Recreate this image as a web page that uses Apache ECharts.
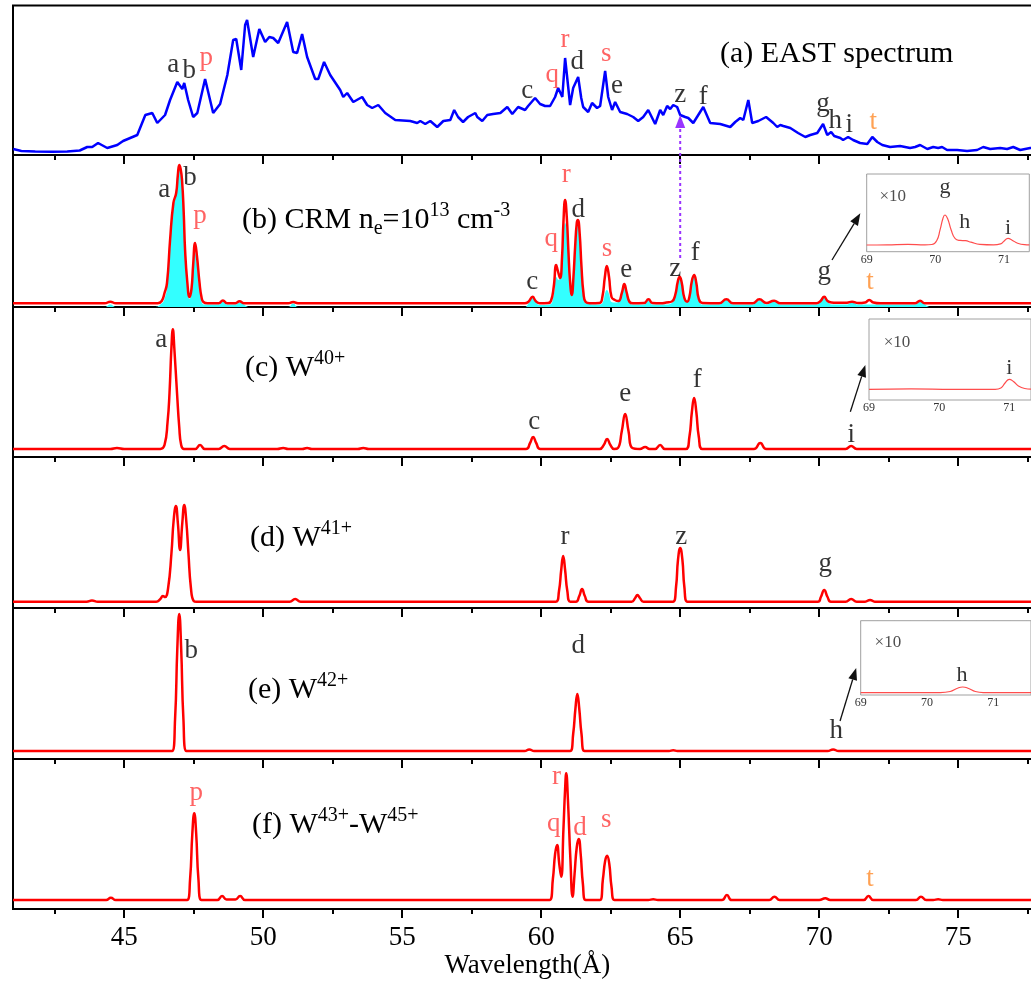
<!DOCTYPE html>
<html>
<head>
<meta charset="utf-8">
<script src="https://cdn.jsdelivr.net/npm/echarts@6/dist/echarts.min.js"></script>
<style>
  html, body { margin: 0; padding: 0; background: #fff; }
  #chart { width: 1031px; height: 987px; }
</style>
</head>
<body>
<div id="chart"></div>
<script>
// ---------- axis values ----------
const X_MIN = 41, X_MAX = 78;
const majorTicks = [45, 50, 55, 60, 65, 70, 75];
const minorTicks = [42.5, 47.5, 52.5, 57.5, 62.5, 67.5, 72.5, 77.5];
const insetTickLabels = [69, 70, 71];
const insetMinorTicks = [69, 69.25, 69.5, 69.75, 70, 70.25, 70.5, 70.75, 71, 71.25, 71.5];

// ---------- spectra: [wavelength (Å), intensity (arb. units)] ----------
const eastSpectrum = [
  [41.01,6],[41.3,4],[41.8,3.5],[42.4,3.3],[42.95,3.5],[43.4,4.5],[43.67,8],[43.85,8],[44.06,12],[44.39,7],
  [44.75,10],[44.96,14],[45.47,20],[45.76,40],[46.01,42],[46.19,32],[46.47,40],[46.65,55],[46.91,73],[47.09,66],
  [47.16,72],[47.30,55],[47.48,38],[47.63,42],[47.70,41],[47.91,76],[48.20,42],[48.45,51],[48.71,80],[48.78,78],
  [48.92,115],[49.03,116],[49.21,85],[49.35,130],[49.42,135],[49.64,98],[49.86,126],[50.07,113],[50.22,118],[50.36,117],
  [50.54,112],[50.86,133],[51.08,103],[51.22,102],[51.40,121],[51.58,98],[51.87,76],[51.98,76],[52.19,93],[52.41,80],
  [52.77,65],[52.88,58],[53.02,62],[53.24,53],[53.56,58],[53.74,50],[53.92,47],[54.14,50],[54.39,42],[54.75,35],
  [55.29,34],[55.54,32],[55.65,34],[55.83,31],[56.01,34],[56.26,28],[56.48,34],[56.73,35],[56.87,45],[57.01,38],
  [57.19,33],[57.37,38],[57.63,42],[57.70,38],[57.88,34],[58.06,40],[58.27,41],[58.53,42],[58.78,48],[58.96,41],
  [59.17,48],[59.42,45],[59.53,49],[59.78,57],[59.96,51],[60.14,49],[60.32,49],[60.50,58],[60.61,67],[60.76,58],
  [60.86,97],[61.04,50],[61.15,67],[61.33,78],[61.44,57],[61.51,48],[61.69,43],[61.83,52],[62.01,47],[62.12,49],
  [62.30,84],[62.41,58],[62.55,45],[62.66,53],[62.84,43],[63.09,41],[63.31,38],[63.49,34],[63.67,38],[63.85,45],
  [64.10,31],[64.28,45],[64.39,40],[64.53,49],[64.64,46],[64.75,50],[64.89,48],[65.00,40],[65.18,38],[65.29,37],
  [65.47,32],[65.65,40],[65.83,48],[66.08,32],[66.44,31],[66.80,28],[66.98,33],[67.16,37],[67.27,35],[67.45,55],
  [67.59,32],[67.81,34],[68.09,38],[68.35,32],[68.49,28],[68.60,30],[68.71,29],[68.96,27],[69.24,22],[69.50,18],
  [69.68,20],[69.93,22],[70.14,31],[70.29,20],[70.43,23],[70.54,19],[70.76,17],[70.86,15],[71.04,18],[71.22,15],
  [71.47,12],[71.73,11],[71.91,18],[72.09,13],[72.27,10],[72.55,8],[72.91,9],[73.27,7],[73.45,8],[73.63,10],
  [73.89,6],[74.10,8],[74.28,7],[74.42,8],[74.60,5],[74.96,5],[75.32,4],[75.68,5],[75.90,8],[76.15,6],
  [76.51,7],[76.76,6],[76.98,8],[77.23,5],[77.59,7],[78,6]
];

const crmTotal = [
  [41,3.7],[44.3,3.7],[44.5,5.3],[44.7,3.7],[46.2,3.7],[46.35,6],[46.45,14],[46.54,24],[46.65,67],[46.77,104],
  [46.87,114],[46.93,132],[46.98,142],[47.03,138],[47.08,127],[47.14,95],[47.19,57],[47.27,25],[47.35,10],[47.42,18],
  [47.48,42],[47.55,64],[47.62,50],[47.71,24],[47.78,10],[47.85,5],[48.0,3.7],[48.4,3.7],[48.55,6.5],[48.7,3.7],
  [49.0,3.7],[49.15,5.8],[49.3,3.7],[50.9,3.7],[51.08,5],[51.25,3.7],[59.4,3.7],[59.55,5.5],[59.69,10.3],[59.8,6],
  [59.95,3.7],[60.25,4],[60.35,6],[60.45,20],[60.54,42],[60.6,36],[60.68,29],[60.75,50],[60.8,85],[60.86,107],
  [60.92,90],[60.98,55],[61.04,25],[61.1,12],[61.16,30],[61.22,60],[61.28,84],[61.32,87],[61.38,75],[61.45,40],
  [61.52,14],[61.6,5],[61.75,3.7],[62.1,4],[62.2,10],[62.29,30],[62.36,41],[62.44,30],[62.53,10],[62.65,7],
  [62.78,6],[62.9,14],[62.99,23],[63.07,15],[63.18,5],[63.3,3.7],[63.7,3.9],[63.86,7.7],[64.0,4],[64.3,3.7],
  [64.5,4.5],[64.7,5.5],[64.82,12],[64.91,25],[64.98,30.3],[65.05,25],[65.15,9],[65.25,5.3],[65.33,10],[65.42,26],
  [65.5,32],[65.58,24],[65.67,8],[65.8,4],[66.4,3.7],[66.66,7.7],[66.9,3.7],[67.6,3.7],[67.85,7.7],[68.1,4],
  [68.38,6.3],[68.6,3.7],[69.9,3.7],[70.05,6],[70.18,10.3],[70.3,6],[70.45,4.5],[70.6,4.3],[71.0,4.3],[71.18,5.3],
  [71.4,3.9],[71.65,4.5],[71.8,7],[71.95,4.5],[72.2,3.7],[73.45,3.7],[73.63,6.3],[73.8,3.7],[78,3.7]
];

// filled (cyan) component under the CRM curve
const crmFill = [
  [41,0],[44.3,0],[44.5,2.5],[44.7,0],[46.1,0],[46.3,2.5],[46.45,8],[46.56,25],[46.66,62],[46.77,100],
  [46.87,112],[46.93,130],[46.98,140],[47.03,136],[47.08,125],[47.14,93],[47.19,55],[47.27,22],[47.35,8],[47.42,15],
  [47.48,36],[47.55,55],[47.62,42],[47.71,18],[47.8,4],[47.9,2.5],[48.4,2.5],[48.55,5],[48.7,2.5],[49.0,2.5],
  [49.15,4.5],[49.3,2.5],[49.5,0],[50.9,0],[51.08,3.5],[51.25,0],[59.4,0],[59.55,4],[59.69,9],[59.8,5],
  [59.95,2],[60.3,2.5],[60.45,12],[60.54,30],[60.62,27],[60.7,34],[60.78,62],[60.86,84],[60.94,72],[61.02,35],
  [61.1,11],[61.17,30],[61.24,60],[61.3,86],[61.36,82],[61.44,40],[61.52,12],[61.62,3.5],[62.1,2.5],[62.22,5],
  [62.3,14],[62.36,17],[62.44,13],[62.53,5],[62.65,4.5],[62.78,5],[62.9,13],[62.99,22],[63.07,14],[63.18,4],
  [63.3,2.5],[63.7,2.5],[63.86,7],[64.0,2.5],[64.5,2.5],[64.7,4],[64.82,11],[64.91,24],[64.98,29.5],[65.05,24],
  [65.15,8],[65.25,4.5],[65.33,9],[65.42,25],[65.5,31],[65.58,23],[65.67,7],[65.8,2.5],[66.4,2.5],[66.66,7],
  [66.9,2.5],[67.6,2.5],[67.85,7],[68.1,2.5],[68.38,5.5],[68.6,2.5],[69.9,2.5],[70.05,5],[70.18,9.5],[70.3,5],
  [70.45,2.5],[71.0,2.5],[71.18,4.5],[71.4,2.5],[73.45,2.5],[73.63,5.5],[73.8,2.5],[74.0,0],[78,0]
];

const w40 = [
  [41,8],[44.5,8],[44.74,9],[45.0,8],[46.3,8],[46.45,12],[46.56,35],[46.63,64],[46.7,110],[46.75,127.7],
  [46.8,110],[46.9,64],[46.98,30],[47.05,12],[47.15,8],[47.55,8],[47.73,12],[47.9,8],[48.4,8],[48.6,11],
  [48.8,8],[50.5,8],[50.72,9],[50.9,8],[51.4,8],[51.58,9],[51.75,8],[53.4,8],[53.6,9],[53.8,8],
  [59.45,8],[59.6,14],[59.71,20],[59.82,14],[59.97,8],[62.1,8],[62.25,12],[62.37,18],[62.49,12],[62.62,8],
  [62.76,9],[62.9,26],[63.02,43],[63.14,26],[63.28,9],[63.55,8],[63.74,10],[63.9,8],[64.1,8],[64.28,12],
  [64.45,8],[65.2,8],[65.33,20],[65.42,45],[65.5,59],[65.58,45],[65.67,20],[65.8,8],[67.65,8],[67.88,14],
  [68.1,8],[70.95,8],[71.15,11],[71.35,8],[78,8]
];

const w41 = [
  [41,6.3],[43.65,6.3],[43.84,7.5],[44.05,6.3],[46.15,6.3],[46.3,9],[46.39,12],[46.47,11],[46.58,20],[46.7,55],
  [46.78,88],[46.86,102],[46.93,85],[47.01,58],[47.09,85],[47.16,103],[47.23,88],[47.31,55],[47.4,20],[47.5,7],
  [47.6,6.3],[50.95,6.3],[51.15,9],[51.35,6.3],[60.53,6.3],[60.64,17],[60.72,38],[60.79,52],[60.86,38],[60.94,17],
  [61.05,6.3],[61.25,6.3],[61.37,12],[61.47,19],[61.57,12],[61.7,6.3],[63.25,6.3],[63.38,10],[63.46,13],[63.55,10],
  [63.68,6.3],[64.74,6.3],[64.85,21],[64.92,48],[65.0,60],[65.08,48],[65.15,21],[65.26,6.3],[69.95,6.3],[70.06,11],
  [70.18,18],[70.3,11],[70.42,6.3],[70.95,6.3],[71.15,9],[71.35,6.3],[71.65,6.3],[71.83,8],[72.0,6.3],[78,6.3]
];

const w42 = [
  [41,8],[46.72,8],[46.83,40],[46.91,110],[46.98,145],[47.05,110],[47.13,40],[47.24,8],[59.4,8],[59.57,9.5],
  [59.75,8],[61.04,8],[61.15,25],[61.23,50],[61.3,65],[61.37,50],[61.45,25],[61.56,8],[64.6,8],[64.75,8.8],
  [64.9,8],[70.3,8],[70.5,9.5],[70.7,8],[78,8]
];

const w43to45 = [
  [41,9],[44.35,9],[44.52,11.3],[44.7,9],[47.26,9],[47.37,30],[47.45,75],[47.52,95.7],[47.59,75],[47.67,30],
  [47.78,9],[48.35,9],[48.52,13],[48.68,9.5],[49.0,9.5],[49.17,13],[49.35,9],[60.3,9],[60.42,30],[60.5,55],
  [60.57,64],[60.65,45],[60.72,32.3],[60.8,80],[60.86,120],[60.9,135.7],[60.96,110],[61.05,50],[61.13,12.3],[61.2,35],
  [61.28,62],[61.35,70],[61.42,55],[61.5,25],[61.6,9],[62.11,9],[62.22,30],[62.3,48],[62.37,53.3],[62.45,45],
  [62.53,22],[62.64,9],[63.85,9],[64.03,9.7],[64.2,9],[66.5,9],[66.68,14],[66.85,9],[68.2,9],[68.39,12.3],
  [68.58,9],[70.0,9],[70.22,10.7],[70.4,9],[71.6,9],[71.77,13],[71.95,9],[73.48,9],[73.66,12.3],[73.85,9],
  [74.1,9],[74.28,9.7],[74.45,9],[78,9]
];

// ×10 magnified views of the 69–71.5 Å region
const insetCrm = [
  [69,6.7],[69.3,6.9],[69.6,7.4],[69.85,6.9],[69.95,7.2],[70.02,11],[70.07,22],[70.11,33],[70.14,36.7],[70.18,33],
  [70.23,22],[70.29,13],[70.36,11.3],[70.44,11],[70.52,9.5],[70.65,7.3],[70.85,6.8],[70.95,7.8],[71.0,10.5],[71.06,13.3],
  [71.12,11.5],[71.2,8.5],[71.3,7],[71.37,6.8]
];
const insetW40 = [
  [69,10.7],[69.6,11.2],[70.2,10.7],[70.8,10.7],[70.88,12],[70.94,17],[71.0,20.7],[71.06,18.5],[71.13,14],[71.22,11.5],[71.31,10.9]
];
const insetW42 = [
  [69,2.4],[70.2,2.4],[70.35,3.5],[70.45,6.5],[70.54,8],[70.63,6.5],[70.73,3.5],[70.85,2.4],[71.57,2.4]
];

// ---------- line identifications: [text, wavelength, height, colour key] ----------
const labelsEast = [
  ['a',46.76,90,'k'],['b',47.34,84,'k'],['p',47.95,97,'r'],['c',59.50,64,'k'],['q',60.40,80,'r'],
  ['r',60.86,115,'r'],['d',61.30,93,'k'],['s',62.34,101,'r'],['e',62.73,69,'k'],['z',65.00,60,'k'],
  ['f',65.83,58,'k'],['g',70.14,51,'k'],['h',70.58,34,'k'],['i',71.08,30,'k'],['t',71.94,33,'o']
];
const labelsCrm = [
  ['a',46.44,117,'k'],['b',47.37,129,'k'],['p',47.73,91,'r'],['c',59.68,25,'k'],['q',60.36,68,'r'],
  ['r',60.90,132,'r'],['d',61.33,97,'k'],['s',62.37,58,'r'],['e',63.06,37,'k'],['z',64.82,38,'k'],
  ['f',65.54,54,'k'],['g',70.18,35,'k'],['t',71.83,25,'o']
];
const labelsW40 = [['a',46.33,117,'k'],['c',59.75,35,'k'],['e',63.02,63,'k'],['f',65.61,77,'k'],['i',71.15,22,'k']];
const labelsW41 = [['r',60.86,71,'k'],['z',65.04,71,'k'],['g',70.22,44,'k']];
const labelsW42 = [['b',47.41,108,'k'],['d',61.33,113,'k'],['h',70.61,28,'k']];
const labelsW43 = [['p',47.59,116,'r'],['q',60.45,85,'r'],['r',60.55,132,'r'],['d',61.40,81,'r'],['s',62.34,89,'r'],['t',71.83,30,'o']];

const insetLabelsCrm = [['×10',69.38,55,'s'],['g',70.14,64.7,'k'],['h',70.43,29.7,'k'],['i',71.06,23.7,'k']];
const insetLabelsW40 = [['×10',69.4,57,'s'],['i',71.0,32,'k']];
const insetLabelsW42 = [['×10',69.41,52.3,'s'],['h',70.53,20,'k']];

// arrows from the main panels to their magnified views: [panel, from, to]
const insetArrows = [
  [1, [70.46, 47], [71.48, 93.7]],
  [2, [71.12, 45.3], [71.66, 92]],
  [4, [70.75, 38], [71.33, 91]]
];
// z line position carried from the CRM panel up to the EAST spectrum
const zMarker = { lambda: 65.0, fromValue: 49, toValue: 40 };

const panelTitles = [
  '{m|(a) EAST spectrum}',
  '{m|(b) CRM n}{sub|e}{m|=10}{sup|13}{m| cm}{sup|-3}',
  '{m|(c) W}{sup|40+}',
  '{m|(d) W}{sup|41+}',
  '{m|(e) W}{sup|42+}',
  '{m|(f) W}{sup|43+}{m|-W}{sup|45+}'
];

// ---------- layout ----------
const SERIF = '"Liberation Serif", "Times New Roman", serif';
const PLOT_LEFT = 13;
const PLOT_WIDTH = (X_MAX - X_MIN) * 27.8;
const panels = [
  { top: 5.5, height: 149.5 },
  { top: 155, height: 152 },
  { top: 307, height: 150 },
  { top: 457, height: 151 },
  { top: 608, height: 151 },
  { top: 759, height: 150 }
];
const titlePos = [
  { left: 720, top: 35 }, { left: 242, top: 201 }, { left: 245, top: 349 },
  { left: 250, top: 519 }, { left: 248, top: 671 }, { left: 252, top: 806 }
];
const insets = [
  { left: 866.7, top: 174, width: 162.6, height: 77.7, max: 71.37 },
  { left: 869, top: 319, width: 162, height: 81, max: 71.31 },
  { left: 860.7, top: 620.7, width: 170.3, height: 74.3, max: 71.57 }
];
const COLORS = { k: '#000', r: '#ff3c3c', o: '#ff8a28', s: '#222' };
const RED = '#ff0000';
const LETTER_SIZE = 27;

const panelSeries = [
  { data: eastSpectrum, color: '#0000ff', smooth: false, labels: labelsEast },
  { data: crmTotal, color: RED, smooth: 0.5, labels: labelsCrm, fill: crmFill },
  { data: w40, color: RED, smooth: 0.5, labels: labelsW40 },
  { data: w41, color: RED, smooth: 0.5, labels: labelsW41 },
  { data: w42, color: RED, smooth: 0.5, labels: labelsW42 },
  { data: w43to45, color: RED, smooth: 0.5, labels: labelsW43 }
];
const insetSeries = [
  { panel: 1, data: insetCrm, labels: insetLabelsCrm },
  { panel: 2, data: insetW40, labels: insetLabelsW40 },
  { panel: 4, data: insetW42, labels: insetLabelsW42 }
];

const chart = echarts.init(document.getElementById('chart'), null, { renderer: 'canvas' });

const grid = [], xAxis = [], yAxis = [], series = [];

function labelSeries(xi, yi, list, fontSize, smallSize) {
  return {
    type: 'scatter', xAxisIndex: xi, yAxisIndex: yi, symbolSize: 1, silent: true, z: 6,
    itemStyle: { color: 'rgba(0,0,0,0)' },
    label: {
      show: true, position: 'inside', formatter: '{b}', fontFamily: SERIF, fontSize: fontSize,
      fontWeight: 'normal', textBorderWidth: 0, textShadowBlur: 0
    },
    data: list.map(([t, x, y, c]) => ({
      name: t, value: [x, y],
      label: { color: COLORS[c], fontSize: c === 's' ? smallSize : fontSize }
    }))
  };
}

panels.forEach((p, i) => {
  const last = i === panels.length - 1;
  grid.push({
    left: PLOT_LEFT, width: PLOT_WIDTH, top: p.top, height: p.height,
    show: true, borderColor: '#000', borderWidth: 2, backgroundColor: 'transparent',
    containLabel: false, outerBoundsMode: 'none'
  });
  xAxis.push({
    gridIndex: i, type: 'value', min: X_MIN, max: X_MAX, position: 'bottom',
    axisLine: { show: false }, splitLine: { show: false },
    axisTick: { show: true, customValues: majorTicks, length: 9, lineStyle: { color: '#000', width: 2 } },
    axisLabel: { show: last, customValues: majorTicks, fontFamily: SERIF, fontSize: 27, color: '#000', margin: 15 },
    name: last ? 'Wavelength(Å)' : '', nameLocation: 'middle', nameGap: 43,
    nameTextStyle: { fontFamily: SERIF, fontSize: 27, color: '#000' }
  });
  xAxis.push({
    gridIndex: i, type: 'value', min: X_MIN, max: X_MAX, position: 'bottom',
    axisLine: { show: false }, splitLine: { show: false },
    axisTick: { show: true, customValues: minorTicks, length: 5, lineStyle: { color: '#000', width: 2 } },
    axisLabel: { show: false }
  });
  yAxis.push({ gridIndex: i, type: 'value', min: 0, max: p.height, show: false });

  const s = panelSeries[i];
  if (s.fill) {
    series.push({
      type: 'line', xAxisIndex: 2 * i, yAxisIndex: i, data: s.fill, symbol: 'none', smooth: s.smooth,
      lineStyle: { width: 0 }, areaStyle: { color: '#33ffff', opacity: 1 }, silent: true, z: 2
    });
  }
  series.push({
    type: 'line', xAxisIndex: 2 * i, yAxisIndex: i, data: s.data, symbol: 'none', smooth: s.smooth,
    lineStyle: { color: s.color, width: 2.5 }, silent: true, z: 3
  });
  series.push(labelSeries(2 * i, i, s.labels, LETTER_SIZE, 17));
});

const insetAxisBase = xAxis.length;
insets.forEach((b, k) => {
  const gi = panels.length + k;
  grid.push({
    left: b.left, top: b.top, width: b.width, height: b.height,
    show: true, borderColor: '#a0a0a0', borderWidth: 1, backgroundColor: '#fff',
    containLabel: false, outerBoundsMode: 'none', z: 4
  });
  const ticks = insetMinorTicks.filter(v => v <= b.max);
  xAxis.push({
    gridIndex: gi, type: 'value', min: 69, max: b.max, position: 'bottom',
    axisLine: { show: false }, splitLine: { show: false },
    axisTick: { show: true, inside: true, customValues: ticks, length: 3, lineStyle: { color: '#c8c8c8', width: 1 } },
    axisLabel: { customValues: insetTickLabels, fontFamily: SERIF, fontSize: 12, color: '#333', margin: 2 }
  });
  xAxis.push({
    gridIndex: gi, type: 'value', min: 69, max: b.max, position: 'top',
    axisLine: { show: false }, splitLine: { show: false },
    axisTick: { show: true, inside: true, customValues: ticks, length: 3, lineStyle: { color: '#c8c8c8', width: 1 } },
    axisLabel: { show: false }
  });
  yAxis.push({ gridIndex: gi, type: 'value', min: 0, max: b.height, show: false });
  const s = insetSeries[k];
  const xi = insetAxisBase + 2 * k;
  series.push({
    type: 'line', xAxisIndex: xi, yAxisIndex: gi, data: s.data, symbol: 'none', smooth: 0.5,
    lineStyle: { color: '#ff4d4d', width: 1.2 }, silent: true, z: 5
  });
  series.push(labelSeries(xi, gi, s.labels, 22, 17));
});

const TITLE_RICH = {
  m: { fontFamily: SERIF, fontSize: 30, fontWeight: 'normal', color: '#000', lineHeight: 38 },
  sup: { fontFamily: SERIF, fontSize: 20, fontWeight: 'normal', color: '#000', lineHeight: 20, verticalAlign: 'top' },
  sub: { fontFamily: SERIF, fontSize: 20, fontWeight: 'normal', color: '#000', lineHeight: 16, verticalAlign: 'bottom' }
};

chart.setOption({
  animation: false,
  backgroundColor: '#fff',
  title: panelTitles.map((t, i) => ({
    text: t, left: titlePos[i].left, top: titlePos[i].top, padding: 0,
    textStyle: { fontFamily: SERIF, fontSize: 30, fontWeight: 'normal', color: '#000', rich: TITLE_RICH }
  })),
  grid, xAxis, yAxis, series
});

// ---------- arrows drawn in pixel space from data coordinates ----------
function toPx(gridIndex, pt) { return chart.convertToPixel({ gridIndex }, pt); }
function arrow(from, to, color, width, headLen, headHalf, dash) {
  const dx = to[0] - from[0], dy = to[1] - from[1];
  const len = Math.hypot(dx, dy), ux = dx / len, uy = dy / len;
  const bx = to[0] - ux * headLen, by = to[1] - uy * headLen;
  return [
    { type: 'line', silent: true, z: 10, shape: { x1: from[0], y1: from[1], x2: bx, y2: by },
      style: { stroke: color, lineWidth: width, lineDash: dash || null } },
    { type: 'polygon', silent: true, z: 10,
      shape: { points: [to, [bx - uy * headHalf, by + ux * headHalf], [bx + uy * headHalf, by - ux * headHalf]] },
      style: { fill: color } }
  ];
}
const elements = [];
insetArrows.forEach(([g, a, b]) => {
  elements.push(...arrow(toPx(g, a), toPx(g, b), '#111', 1.3, 12, 4.5));
});
const zFrom = toPx(1, [zMarker.lambda, zMarker.fromValue]);
const zTo = toPx(0, [zMarker.lambda, zMarker.toValue]);
elements.push(...arrow(zFrom, zTo, '#9933ff', 2, 13, 5, [3, 3]));
chart.setOption({ graphic: { elements } });
</script>
</body>
</html>
